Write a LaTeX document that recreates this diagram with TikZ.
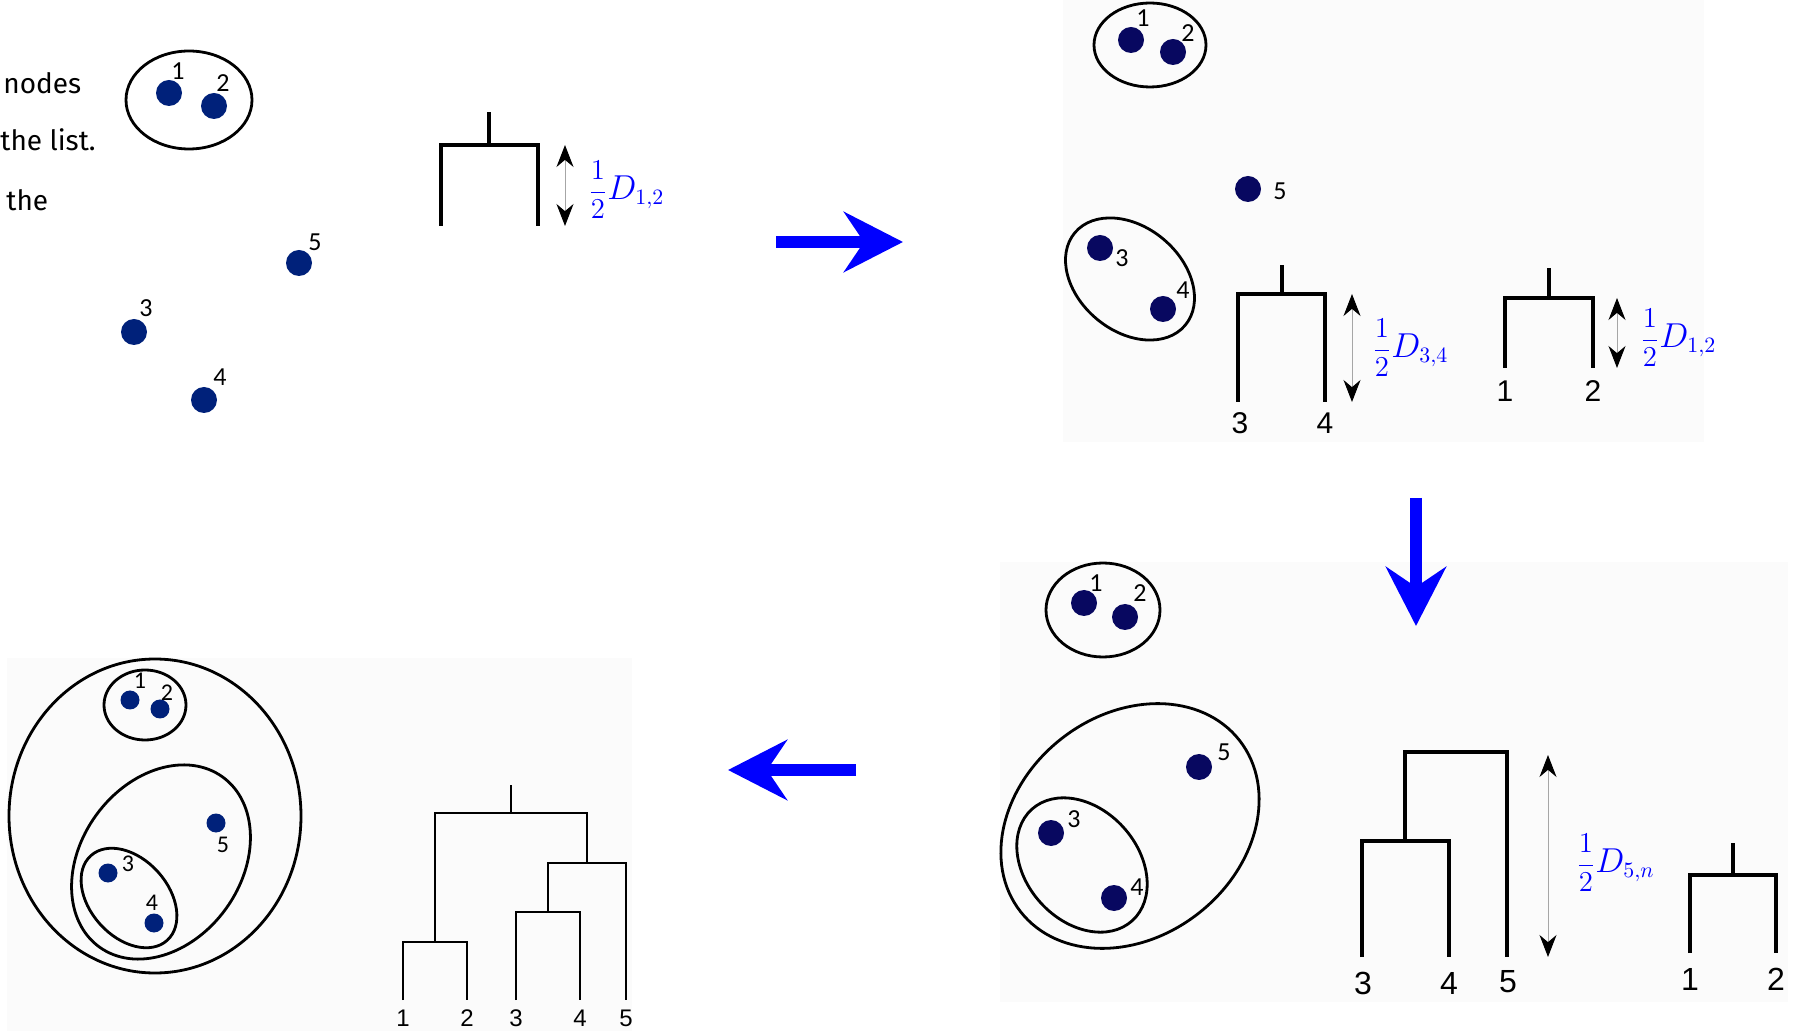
\documentclass[tikz,border=0pt]{standalone}
\usepackage{fontspec}
\usepackage{tikz}
\usetikzlibrary{arrows.meta}
\newfontfamily\leaffont{Liberation Sans}
\newfontfamily\numfont{Carlito}
\newfontfamily\notefont{Fira Sans}
\newcommand{\halfD}[1]{{\fontsize{14}{16}\selectfont$\displaystyle\frac{1}{2}$}$D_{#1}$}
\definecolor{dotblue}{RGB}{0,33,122}
\definecolor{dotnavy}{RGB}{8,8,96}
\definecolor{panelgray}{RGB}{251,251,251}
\definecolor{flowblue}{RGB}{0,0,255}
\begin{document}
\begin{tikzpicture}[x=0.5pt, y=-0.5pt,
    obj/.style={circle, fill=dotnavy, inner sep=0pt, minimum size=13pt},
    objsmall/.style={obj, fill=dotblue, minimum size=9.5pt},
    num/.style={font=\numfont\fontsize{13}{15}\selectfont, inner sep=0pt},
    leaf/.style={font=\leaffont\fontsize{15}{18}\selectfont, inner sep=0pt},
    note/.style={font=\notefont\fontsize{14}{17}\selectfont, inner sep=0pt},
    halflabel/.style={blue, font=\fontsize{16}{19}\selectfont, inner sep=0pt, anchor=west},
    grp/.style={line width=1.4pt},
    dendro/.style={line width=1.6pt},
    half/.style={{Stealth[length=11pt,width=8.5pt,color=black]}-{Stealth[length=11pt,width=8.5pt,color=black]}, gray!70, line width=0.5pt},
    flow/.style={flowblue, line width=6pt, -{Stealth[length=29.5pt,width=30pt,inset=10pt]}},
    bg/.style={fill=panelgray}]
    \useasboundingbox (0,0) rectangle (1800,1031);
    % panel backgrounds
    \fill[bg] (1063,0) rectangle (1704,442);
    \fill[bg] (1000,562) rectangle (1788,1002);
    \fill[bg] (7,658) rectangle (632,1031);
    % step 1: merge 1 and 2
    \node[note, anchor=west] (t1) at (3,83) {nodes};
    \node[note, anchor=west] (t2) at (0,140) {the list.};
    \node[note, anchor=west] (t3) at (6,200) {the};
    \draw[grp] (189,100) ellipse [x radius=63, y radius=49];
    \node[obj, fill=dotblue] (a1) at (169,93) {};  \node[num] (an1) at (178,71) {1};
    \node[obj, fill=dotblue] (a2) at (214,106) {}; \node[num] (an2) at (223,83) {2};
    \node[obj, fill=dotblue] (a5) at (299,263) {}; \node[num] (an5) at (315,242) {5};
    \node[obj, fill=dotblue] (a3) at (134,332) {}; \node[num] (an3) at (146,308) {3};
    \node[obj, fill=dotblue] (a4) at (204,400) {}; \node[num] (an4) at (220,377) {4};
    \draw[dendro] (441,226) |- (538,145) -- (538,226);
    \draw[dendro] (489,145) -- (489,112);
    \coordinate (ah1) at (565,145); \coordinate (ah2) at (565,226);
    \draw[half] (ah1) -- (ah2);
    \node[halflabel] (al) at (588,190) {\halfD{1,2}};
    \coordinate (f1a) at (776,242); \coordinate (f1b) at (903,242);
    \draw[flow] (f1a) -- (f1b);
    % step 2: merge 3 and 4
    \draw[grp] (1150,45) ellipse [x radius=56, y radius=42];
    \draw[grp, rotate around={-40:(1130,279)}] (1130,279) ellipse [x radius=72, y radius=52];
    \node[obj] (b1) at (1131,40) {};  \node[num] (bn1) at (1143,18) {1};
    \node[obj] (b2) at (1173,52) {};  \node[num] (bn2) at (1188,33) {2};
    \node[obj] (b5) at (1248,189) {}; \node[num] (bn5) at (1280,191) {5};
    \node[obj] (b3) at (1100,248) {}; \node[num] (bn3) at (1122,258) {3};
    \node[obj] (b4) at (1163,309) {}; \node[num] (bn4) at (1183,290) {4};
    \draw[dendro] (1238,402) |- (1325,294) -- (1325,402);
    \draw[dendro] (1282,294) -- (1282,265);
    \node[leaf] (bk3) at (1240,423) {3};
    \node[leaf] (bk4) at (1325,423) {4};
    \coordinate (bh1) at (1352,294); \coordinate (bh2) at (1352,402);
    \draw[half] (bh1) -- (bh2);
    \node[halflabel] (bl34) at (1372,348) {\halfD{3,4}};
    \draw[dendro] (1505,368) |- (1593,298) -- (1593,368);
    \draw[dendro] (1549,298) -- (1549,268);
    \node[leaf] (bk1) at (1505,391) {1};
    \node[leaf] (bk2) at (1593,391) {2};
    \coordinate (bh3) at (1617,298); \coordinate (bh4) at (1617,368);
    \draw[half] (bh3) -- (bh4);
    \node[halflabel] (bl12) at (1640,338) {\halfD{1,2}};
    \coordinate (f2a) at (1416,498); \coordinate (f2b) at (1416,626);
    \draw[flow] (f2a) -- (f2b);
    % step 3: 5 joins (3,4)
    \draw[grp] (1103,610) ellipse [x radius=57, y radius=47];
    \draw[grp, rotate around={38:(1130,826)}] (1130,826) ellipse [x radius=139, y radius=111];
    \draw[grp, rotate around={-48:(1082,865)}] (1082,865) ellipse [x radius=75, y radius=56];
    \node[obj] (c1) at (1084,603) {};  \node[num] (cn1) at (1096,583) {1};
    \node[obj] (c2) at (1125,617) {};  \node[num] (cn2) at (1140,593) {2};
    \node[obj] (c5) at (1199,767) {};  \node[num] (cn5) at (1224,752) {5};
    \node[obj] (c3) at (1051,833) {};  \node[num] (cn3) at (1074,819) {3};
    \node[obj] (c4) at (1114,898) {};  \node[num] (cn4) at (1137,887) {4};
    \draw[dendro] (1362,957) |- (1449,841) -- (1449,957);
    \draw[dendro] (1405,841) |- (1507,752) -- (1507,957);
    \node[leaf, font=\leaffont\fontsize{16}{19}\selectfont] (ck3) at (1363,983) {3};
    \node[leaf, font=\leaffont\fontsize{16}{19}\selectfont] (ck4) at (1449,983) {4};
    \node[leaf, font=\leaffont\fontsize{16}{19}\selectfont] (ck5) at (1508,982) {5};
    \coordinate (ch1) at (1548,755); \coordinate (ch2) at (1548,957);
    \draw[half] (ch1) -- (ch2);
    \node[halflabel] (cl) at (1576,863) {\halfD{5,n}};
    \draw[dendro] (1690,953) |- (1776,875) -- (1776,953);
    \draw[dendro] (1733,875) -- (1733,843);
    \node[leaf, font=\leaffont\fontsize{16}{19}\selectfont] (ck1) at (1690,979) {1};
    \node[leaf, font=\leaffont\fontsize{16}{19}\selectfont] (ck2) at (1776,979) {2};
    \coordinate (f3a) at (856,770); \coordinate (f3b) at (728,770);
    \draw[flow] (f3a) -- (f3b);
    % step 4: everything in one cluster
    \draw[grp] (155,816) ellipse [x radius=146, y radius=157];
    \draw[grp] (145,705) ellipse [x radius=41, y radius=35];
    \draw[grp, rotate around={54:(161,862)}] (161,862) ellipse [x radius=105, y radius=80];
    \draw[grp, rotate around={-48:(129,898)}] (129,898) ellipse [x radius=57, y radius=39];
    \node[objsmall] (d1) at (130,700) {}; \node[num, font=\numfont\fontsize{12}{14}\selectfont] (dn1) at (140,681) {1};
    \node[objsmall] (d2) at (160,709) {}; \node[num, font=\numfont\fontsize{12}{14}\selectfont] (dn2) at (167,693) {2};
    \node[objsmall] (d5) at (216,823) {}; \node[num, font=\numfont\fontsize{12}{14}\selectfont] (dn5) at (223,845) {5};
    \node[objsmall] (d3) at (108,873) {}; \node[num, font=\numfont\fontsize{12}{14}\selectfont] (dn3) at (128,864) {3};
    \node[objsmall] (d4) at (154,923) {}; \node[num, font=\numfont\fontsize{12}{14}\selectfont] (dn4) at (152,903) {4};
    \draw[line width=1.2pt] (403,1000) |- (467,942) -- (467,1000);
    \draw[line width=1.2pt] (516,1000) |- (580,912) -- (580,1000);
    \draw[line width=1.2pt] (548,912) |- (626,863) -- (626,1000);
    \draw[line width=1.2pt] (435,942) |- (587,813) -- (587,863);
    \draw[line width=1.2pt] (511,813) -- (511,785);
    \foreach \x/\k in {403/1, 467/2, 516/3, 580/4, 626/5}
        \node[leaf, font=\leaffont\fontsize{12}{14}\selectfont] (dk\k) at (\x,1018) {\k};
\end{tikzpicture}
\end{document}
